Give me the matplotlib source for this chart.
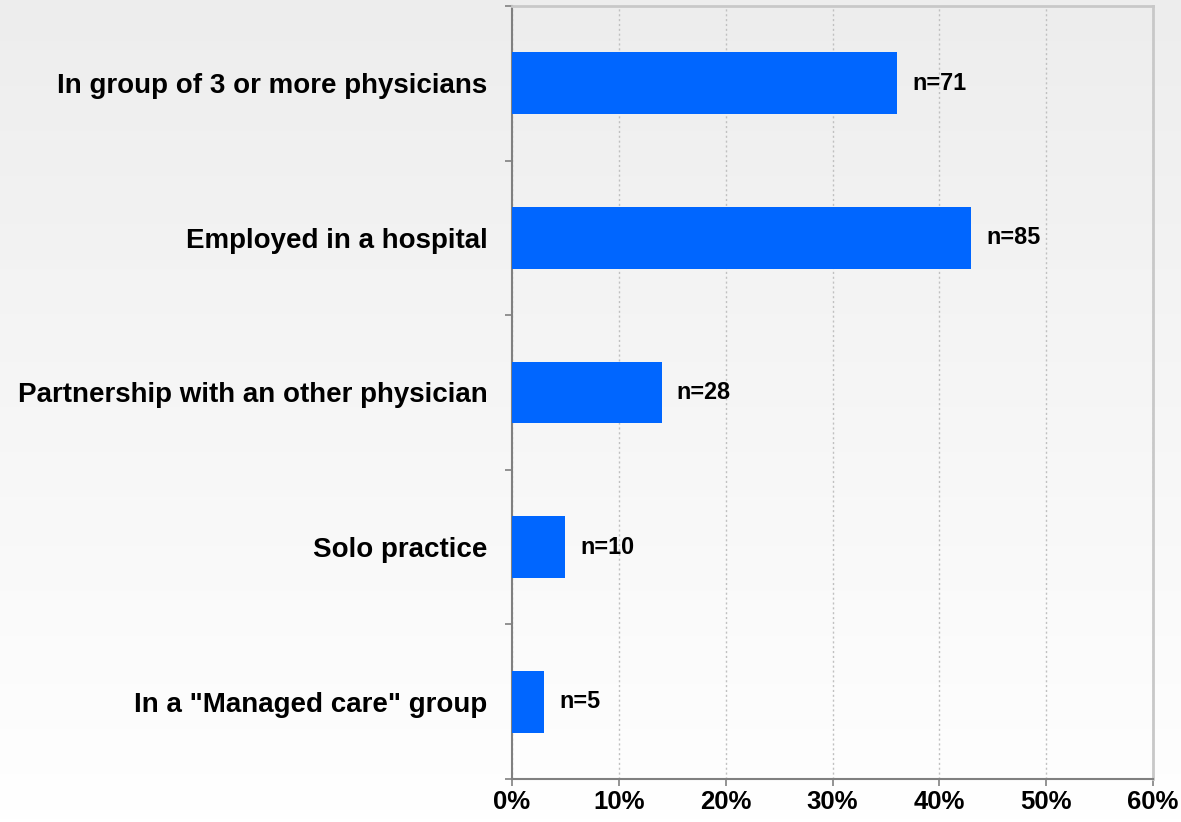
import matplotlib
matplotlib.use("Agg")
import matplotlib.pyplot as plt
import numpy as np

categories = ["In group of 3 or more physicians", "Employed in a hospital",
              "Partnership with an other physician", "Solo practice",
              'In a "Managed care" group']
values = [36, 43, 14, 5, 3]
counts = ["n=71", "n=85", "n=28", "n=10", "n=5"]
xticks = [0, 10, 20, 30, 40, 50, 60]
xticklabels = ["0%", "10%", "20%", "30%", "40%", "50%", "60%"]

plt.rcParams['font.family'] = ['Liberation Sans', 'DejaVu Sans']
plt.rcParams['font.weight'] = 'bold'

fig = plt.figure(figsize=(11.81, 8.22), dpi=100)

# gradient background
bg = fig.add_axes([0, 0, 1, 1], zorder=-10)
grad = np.linspace(0.93, 1.0, 256).reshape(-1, 1)
bg.imshow(np.dstack([grad, grad, grad]), aspect='auto', extent=[0, 1, 0, 1], origin='upper')
bg.axis('off')

ax = fig.add_axes([512/1181, 1-779/822, (1153-512)/1181, (779-6)/822])
ax.patch.set_alpha(0)

y = np.arange(len(categories))
ax.barh(y, values, height=0.4, color='#0066ff', zorder=3)
for yi, v, c in zip(y, values, counts):
    ax.annotate(c, (v, yi), xytext=(11, 0), textcoords='offset points',
                va='center', ha='left', fontsize=16.8, fontweight='bold')

ax.set_xlim(0, 60)
ax.set_ylim(len(categories) - 0.5, -0.5)
ax.set_xticks(xticks)
ax.set_xticklabels(xticklabels, fontsize=18.5, fontweight='bold')
ax.set_yticks(np.arange(-0.5, len(categories), 1.0))
ax.set_yticklabels([])
ax.set_yticks(y, minor=True)
ax.set_yticklabels(categories, minor=True, fontsize=20, fontweight='bold')
ax.tick_params(axis='y', which='minor', length=0, pad=17.5)
ax.tick_params(axis='y', which='major', length=5, width=1.2, color='#808080', direction='out')
ax.tick_params(axis='x', length=5, width=1.2, color='#808080', direction='out', pad=3)

ax.xaxis.grid(True, linestyle=(0, (1.5, 2)), color='#c0c0c0', linewidth=1, zorder=0)
for s in ['left', 'bottom']:
    ax.spines[s].set_color('#808080')
    ax.spines[s].set_linewidth(1.5)
for s in ['top', 'right']:
    ax.spines[s].set_color('#c8c8c8')
    ax.spines[s].set_linewidth(2)

fig.savefig("out.png", dpi=100)
